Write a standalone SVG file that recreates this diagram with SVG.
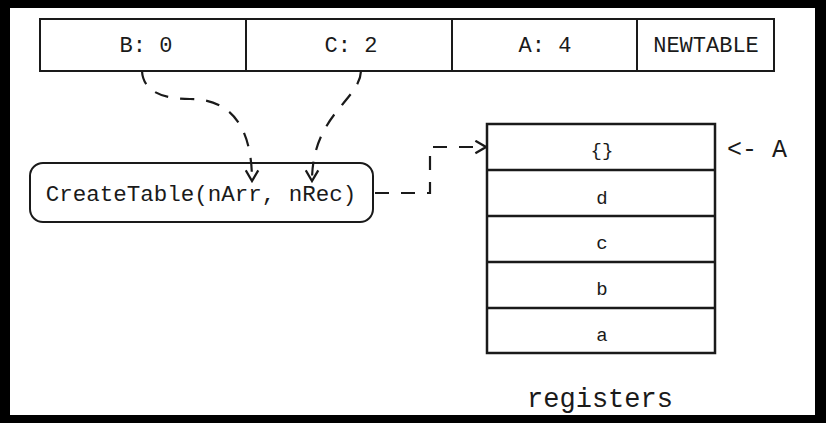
<svg xmlns="http://www.w3.org/2000/svg" width="826" height="423" viewBox="0 0 826 423">
<style>
.box{fill:#fff;stroke:#1a1a1a;stroke-width:2}
.reg{fill:#fff;stroke:#1a1a1a;stroke-width:2.5}
.t{font-family:"Liberation Mono","Courier New",monospace;fill:#1a1a1a;text-anchor:middle}
.edge{fill:none;stroke:#1a1a1a;stroke-width:2.2;stroke-dasharray:14 12}
</style>
<defs>
<marker id="arr" markerUnits="userSpaceOnUse" markerWidth="15" markerHeight="15" refX="10.5" refY="6" orient="auto" viewBox="0 0 12 12">
<polyline points="2,1 10.5,6 2,11" fill="none" stroke="#1a1a1a" stroke-width="1.8"/>
</marker>
</defs>
<rect x="0" y="0" width="826" height="423" fill="#000"/>
<rect x="10" y="8" width="805" height="407" fill="#fff"/>
<g id="instruction">
<rect class="box" x="40" y="19" width="734" height="52"/>
<line x1="246" y1="19" x2="246" y2="71" stroke="#1a1a1a" stroke-width="2"/>
<line x1="452" y1="19" x2="452" y2="71" stroke="#1a1a1a" stroke-width="2"/>
<line x1="637" y1="19" x2="637" y2="71" stroke="#1a1a1a" stroke-width="2"/>
<text class="t" x="146" y="52" font-size="22">B: 0</text>
<text class="t" x="351" y="52" font-size="22">C: 2</text>
<text class="t" x="545" y="52" font-size="22">A: 4</text>
<text class="t" x="706" y="52" font-size="22">NEWTABLE</text>
</g>
<g id="createtable">
<rect class="box" x="30" y="163" width="343" height="59" rx="13"/>
<text class="t" x="201" y="201" font-size="22.5">CreateTable(nArr, nRec)</text>
</g>
<g id="registers">
<rect class="reg" x="487" y="124" width="228" height="229"/>
<line x1="487" y1="170" x2="715" y2="170" stroke="#1a1a1a" stroke-width="2.5"/>
<line x1="487" y1="216" x2="715" y2="216" stroke="#1a1a1a" stroke-width="2.5"/>
<line x1="487" y1="262" x2="715" y2="262" stroke="#1a1a1a" stroke-width="2.5"/>
<line x1="487" y1="308" x2="715" y2="308" stroke="#1a1a1a" stroke-width="2.5"/>
<text class="t" x="602" y="156" font-size="19">{}</text>
<text class="t" x="602" y="204" font-size="19">d</text>
<text class="t" x="602" y="249" font-size="19">c</text>
<text class="t" x="602" y="295" font-size="19">b</text>
<text class="t" x="602" y="341" font-size="19">a</text>
<text class="t" x="600" y="407" font-size="27">registers</text>
</g>
<g id="label-a">
<text class="t" x="757" y="157" font-size="25">&lt;- A</text>
</g>
<g id="connectors">
<path class="edge" d="M142,71 C143,90 160,99 190,99 C230,99 252,125 252,181" marker-end="url(#arr)"/>
<path class="edge" d="M361,71 C360,100 312,115 312,181" marker-end="url(#arr)"/>
<path class="edge" d="M375,193 H430 V147 H486" marker-end="url(#arr)"/>
</g>
</svg>
